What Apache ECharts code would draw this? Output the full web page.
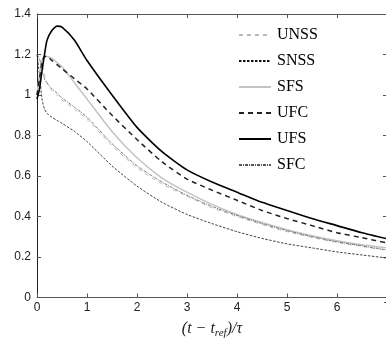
<!DOCTYPE html>
<html>
<head>
<meta charset="utf-8">
<script src="https://cdn.jsdelivr.net/npm/echarts@6/dist/echarts.min.js"></script>
<style>html,body{margin:0;padding:0;background:#fff}#c{width:386px;height:342px}</style>
</head>
<body>
<div id="c"></div>
<script>
var xs = [0, 0.05, 0.1, 0.15, 0.2, 0.3, 0.4, 0.5, 0.75, 1, 1.5, 2, 2.5, 3, 3.5, 4, 4.5, 5, 5.5, 6, 6.5, 7];
var UNSS = [1.0, 1.1, 1.15, 1.1, 1.06, 1.02, 1.0, 0.975, 0.93, 0.88, 0.75, 0.64, 0.56, 0.5, 0.443, 0.4, 0.36, 0.325, 0.297, 0.272, 0.252, 0.232];
var SNSS = [1.2, 1.1, 0.98, 0.93, 0.91, 0.89, 0.875, 0.86, 0.82, 0.77, 0.65, 0.55, 0.47, 0.41, 0.365, 0.325, 0.292, 0.265, 0.245, 0.225, 0.21, 0.195];
var SFS = [1.0, 1.1, 1.17, 1.19, 1.19, 1.18, 1.16, 1.14, 1.06, 0.98, 0.82, 0.69, 0.59, 0.52, 0.46, 0.41, 0.37, 0.335, 0.305, 0.28, 0.26, 0.245];
var UFC = [1.0, 1.08, 1.16, 1.19, 1.19, 1.17, 1.15, 1.13, 1.08, 1.03, 0.9, 0.78, 0.67, 0.585, 0.53, 0.48, 0.43, 0.39, 0.355, 0.32, 0.295, 0.27];
var UFS = [0.98, 1.03, 1.12, 1.2, 1.27, 1.32, 1.34, 1.335, 1.27, 1.17, 1.0, 0.84, 0.72, 0.63, 0.57, 0.52, 0.47, 0.43, 0.39, 0.355, 0.32, 0.29];
var SFC = [1.2, 1.18, 1.12, 1.08, 1.06, 1.03, 1.01, 0.985, 0.94, 0.89, 0.76, 0.65, 0.57, 0.505, 0.45, 0.405, 0.365, 0.33, 0.3, 0.275, 0.255, 0.235];
var xTicks = ['0', '1', '2', '3', '4', '5', '6', '7'];
var yTicks = ['0', '0.2', '0.4', '0.6', '0.8', '1', '1.2', '1.4'];

function pairs(ys) { return xs.map(function (x, i) { return [x, ys[i]]; }); }

var chart = echarts.init(document.getElementById('c'), null, { renderer: 'canvas' });
var axisColor = '#555';
function mk(name, ys, color, width, type) {
  return {
    name: name, type: 'line', data: pairs(ys), symbol: 'none', showSymbol: false, smooth: 0.2,
    lineStyle: { color: color, width: width, type: type }, itemStyle: { color: color },
    xAxisIndex: 0, yAxisIndex: 0, silent: true
  };
}
chart.setOption({
  animation: false,
  grid: { left: 37, top: 14, width: 350, height: 283.5, containLabel: false,
    outerBounds: { left: -30, top: -30, right: -30, bottom: -30 } },
  legend: {
    orient: 'vertical', left: 233, top: 22, itemWidth: 32, itemHeight: 14, itemGap: 10,
    itemStyle: { opacity: 0 },
    textStyle: { fontFamily: 'Liberation Serif', fontSize: 16, color: '#000', padding: [0, 0, 0, 1] },
    data: ['UNSS', 'SNSS', 'SFS', 'UFC', 'UFS', 'SFC']
  },
  xAxis: [{
    type: 'value', min: 0, max: 7, interval: 1, position: 'bottom',
    axisLine: { onZero: false, lineStyle: { color: axisColor, width: 1 } },
    axisTick: { inside: true, length: 4, lineStyle: { color: axisColor } },
    axisLabel: { show: true, color: '#222', fontFamily: 'Liberation Sans', fontSize: 12, margin: 4,
      formatter: function (v) { return xTicks[Math.round(v)]; } },
    splitLine: { show: false },
    name: '{a|(t − t}{s|ref}{a|)/τ}', nameLocation: 'middle', nameGap: 22,
    nameTextStyle: { rich: { a: { fontFamily: 'Liberation Serif', fontStyle: 'italic', fontSize: 16, color: '#222' }, s: { fontFamily: 'Liberation Serif', fontStyle: 'italic', fontSize: 11, color: '#222', verticalAlign: 'bottom', padding: [8, 0, 0, 0] } } }
  }, {
    type: 'value', min: 0, max: 7, interval: 1, position: 'top',
    axisLine: { onZero: false, lineStyle: { color: axisColor } },
    axisTick: { inside: true, length: 4, lineStyle: { color: axisColor } },
    axisLabel: { show: false }, splitLine: { show: false }
  }],
  yAxis: [{
    type: 'value', min: 0, max: 1.4, interval: 0.2, position: 'left',
    axisLine: { show: true, onZero: false, lineStyle: { color: '#222', width: 1 } },
    axisTick: { show: true, inside: true, length: 4, lineStyle: { color: axisColor } },
    axisLabel: { color: '#222', fontFamily: 'Liberation Sans', fontSize: 12, margin: 6,
      formatter: function (v) { return yTicks[Math.round(v / 0.2)]; } },
    splitLine: { show: false }
  }, {
    type: 'value', min: 0, max: 1.4, interval: 0.2, position: 'right',
    axisLine: { show: true, onZero: false, lineStyle: { color: axisColor } },
    axisTick: { show: true, inside: true, length: 4, lineStyle: { color: axisColor } },
    axisLabel: { show: false }, splitLine: { show: false }
  }],
  series: [
    mk('UNSS', UNSS, '#b8b8b8', 1, [4, 4]),
    mk('SNSS', SNSS, '#111', 0.8, [2.5, 1.5]),
    mk('SFS', SFS, '#c4c4c4', 1.5, 'solid'),
    mk('UFC', UFC, '#222', 1.5, [5, 4]),
    mk('UFS', UFS, '#000', 1.6, 'solid'),
    mk('SFC', SFC, '#555', 0.8, [3, 1, 1, 1])
  ]
});
</script>
</body>
</html>
